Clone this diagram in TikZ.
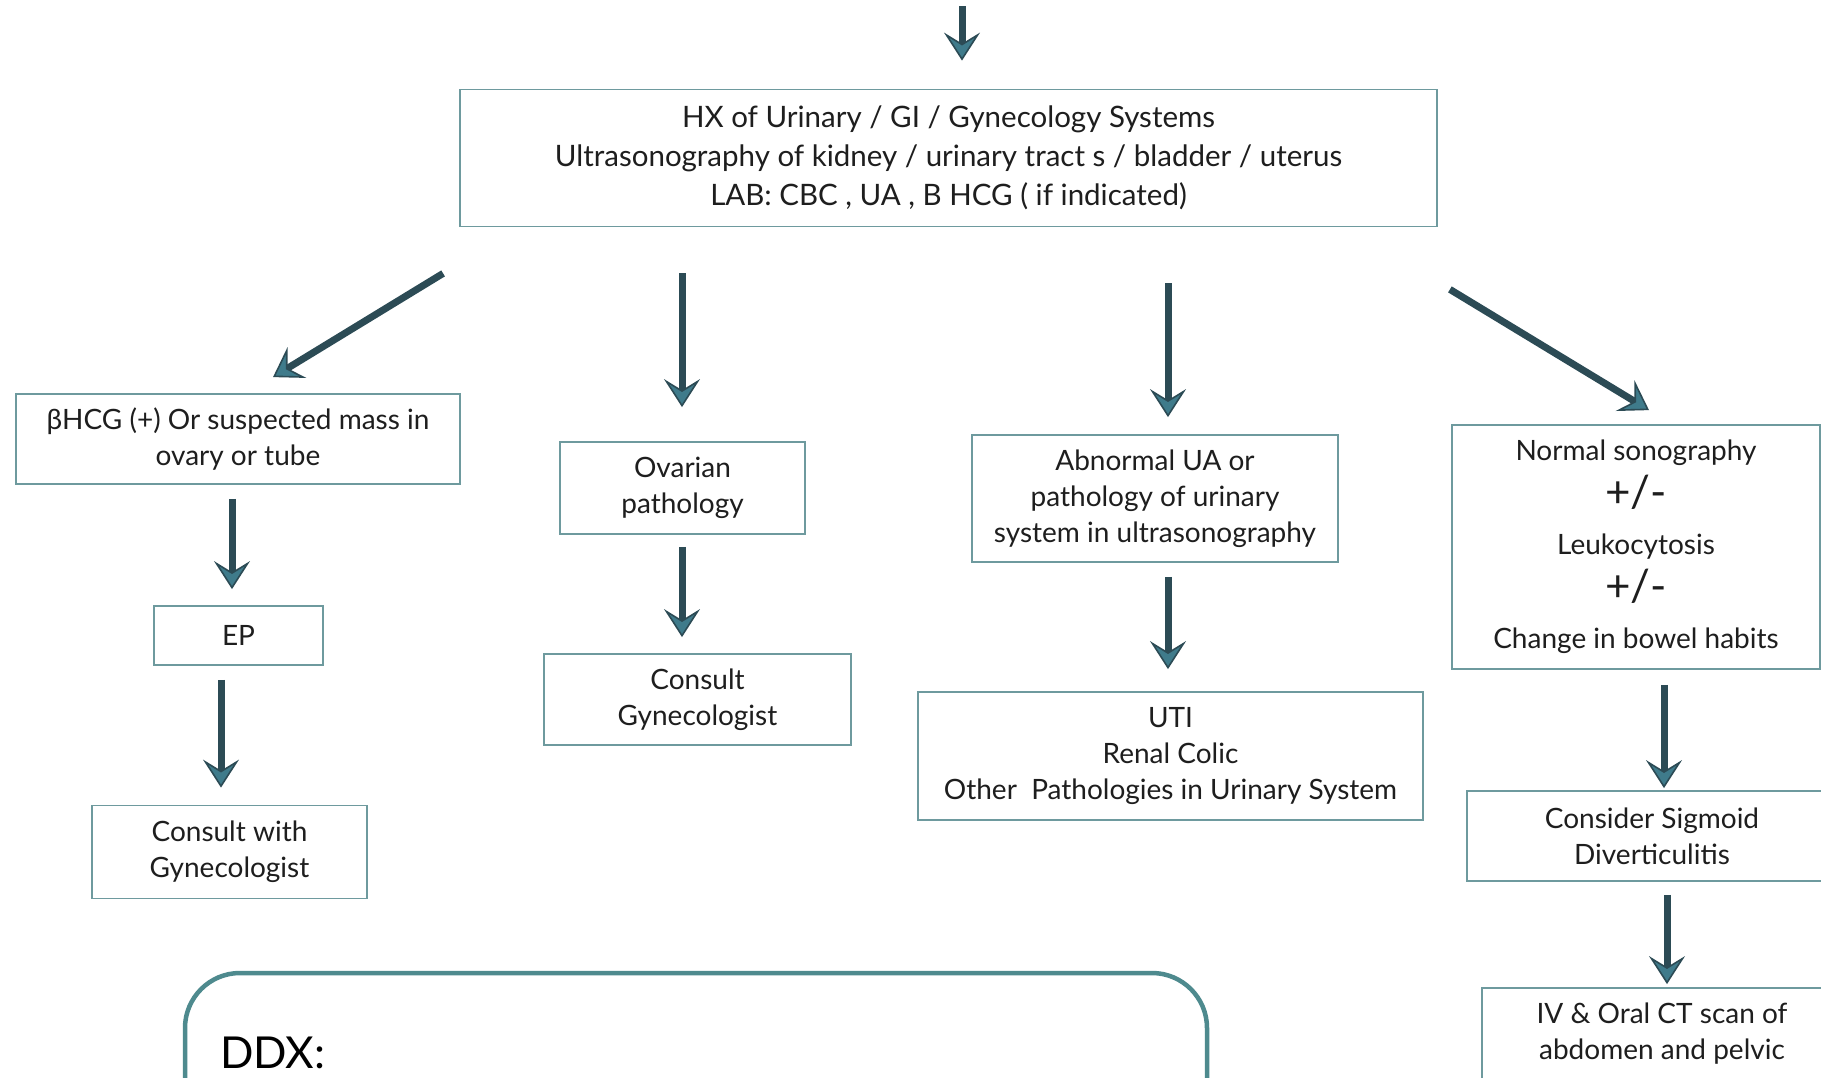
\documentclass[tikz,border=0pt]{standalone}
\usepackage{fontspec}
\setmainfont{Lato}
\usetikzlibrary{arrows.meta}
\definecolor{boxline}{HTML}{6E9A9E}
\definecolor{arrowdark}{HTML}{2C4B55}
\definecolor{arrowfill}{HTML}{3F7B8B}
\definecolor{ddxline}{HTML}{4E8A8E}
\definecolor{inktext}{HTML}{1E1E1E}

\begin{document}
\begin{tikzpicture}[x=1pt,y=-1pt,
  flowbox/.style={draw=boxline, line width=1.8pt, fill=white, align=center,
    text=inktext, inner sep=0pt, font=\fontsize{28}{36}\selectfont},
  flow/.style={draw=arrowdark, line width=7pt,
    -{Stealth[length=28pt,width=36pt,inset=11pt,line width=1.6pt,fill=arrowfill]}},
  plusminus/.style={font=\fontsize{44}{47}\selectfont},
]
\useasboundingbox (0,0) rectangle (1821,1077);
\clip (0,0) rectangle (1821,1077);
\fill[white] (0,0) rectangle (1821,1077);

% first step: history, imaging, labs
\node[flowbox, minimum width=977pt, minimum height=137pt,
      font=\fontsize{29.5}{39}\selectfont] (top) at (948.5,158)
  {HX of Urinary / GI / Gynecology Systems\\
   Ultrasonography of kidney / urinary tract s / bladder / uterus\\
   LAB: CBC , UA , B HCG ( if indicated)};

% gynecologic branch
\node[flowbox, minimum width=444pt, minimum height=90pt] (b1) at (238,439)
  {βHCG (+) Or suspected mass in\\ ovary or tube};
\node[flowbox, minimum width=169pt, minimum height=59pt] (ep) at (238.5,635.5) {EP};
\node[flowbox, minimum width=275pt, minimum height=93pt] (cwg) at (229.5,852)
  {Consult with\\ Gynecologist};

% ovarian branch
\node[flowbox, minimum width=245pt, minimum height=92pt] (ov) at (682.5,488)
  {Ovarian\\ pathology};
\node[flowbox, minimum width=307pt, minimum height=91pt] (cg) at (697.5,699.5)
  {Consult\\ Gynecologist};

% urinary branch
\node[flowbox, minimum width=366pt, minimum height=127pt] (ua) at (1155,498.5)
  {Abnormal UA or\\ pathology of urinary\\ system in ultrasonography};
\node[flowbox, minimum width=505pt, minimum height=128pt] (uti) at (1170.5,756)
  {UTI\\ Renal Colic\\ Other\ \ Pathologies in Urinary System};

% GI branch
\node[flowbox, minimum width=368pt, minimum height=244pt,
      font=\fontsize{28}{47}\selectfont] (ns) at (1636,547)
  {Normal sonography\\
   {\fontsize{44}{47}\selectfont +/-}\\
   Leukocytosis\\
   {\fontsize{44}{47}\selectfont +/-}\\
   Change in bowel habits};
\node[flowbox, minimum width=370pt, minimum height=90pt] (sig) at (1652,836)
  {Consider Sigmoid\\ Diverticulitis};
\node[flowbox, minimum width=360pt, minimum height=92pt] (ct) at (1662,1034)
  {IV \& Oral CT scan of\\ abdomen and pelvic};

% differential diagnosis panel
\draw[ddxline, line width=4.5pt, fill=white, rounded corners=55pt]
  (185,1140) -- (185,973) -- (1207,973) -- (1207,1140);
\node[anchor=base west, font=\fontsize{44}{46}\selectfont, text=black, inner sep=0pt]
  (ddx) at (220,1068) {DDX:};

% connectors
\coordinate (src) at (962,6);
\draw[flow, shorten >=28pt] (src) -- (src |- top.north);

\draw[flow] ([shift={(-16,46)}]top.south west) -- ([shift={(35,-16)}]b1.north);
\draw[flow, shorten <=46pt, shorten >=34pt] (top.south -| 682,0) -- (ov.north -| 682,0);
\draw[flow, shorten <=56pt, shorten >=17pt] (top.south -| 1168,0) -- (ua.north -| 1168,0);
\draw[flow] ([shift={(12,62)}]top.south east) -- ([shift={(13,-14)}]ns.north);

\draw[flow, shorten <=14pt, shorten >=16pt] (b1.south -| 232,0) -- (ep.north -| 232,0);
\draw[flow, shorten <=14pt, shorten >=17pt] (ep.south -| 221,0) -- (cwg.north -| 221,0);
\draw[flow, shorten <=12pt, shorten >=16pt] (ov.south -| 682,0) -- (cg.north -| 682,0);
\draw[flow, shorten <=14pt, shorten >=22pt] (ua.south -| 1168,0) -- (uti.north -| 1168,0);
\draw[flow, shorten <=15pt, shorten >=2pt] (ns.south -| 1664,0) -- (sig.north -| 1664,0);
\draw[flow, shorten <=13pt, shorten >=3pt] (sig.south -| 1667,0) -- (ct.north -| 1667,0);
\end{tikzpicture}
\end{document}
